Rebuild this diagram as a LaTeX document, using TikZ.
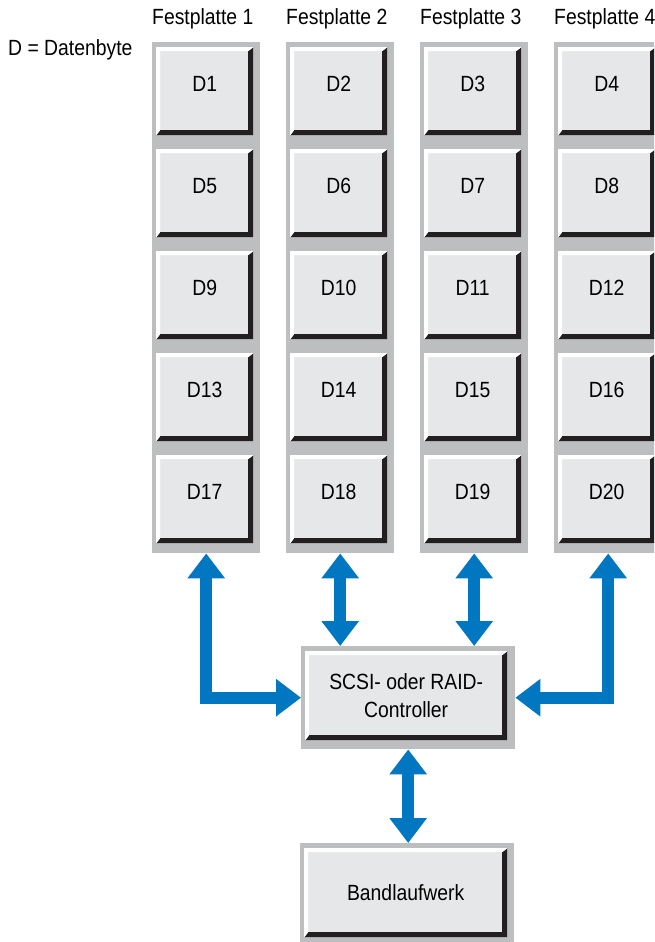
\documentclass[tikz,border=0pt]{standalone}
\usepackage{fontspec}
\setmainfont{Liberation Sans}[FakeStretch=0.88]
\usetikzlibrary{arrows.meta,calc}
\definecolor{colgray}{RGB}{188,190,192}
\definecolor{boxfill}{RGB}{230,231,232}
\definecolor{shadowc}{RGB}{35,31,32}
\definecolor{arrowblue}{RGB}{0,119,192}
\tikzset{
  lbl/.style={font=\fontsize{22}{28}\selectfont, inner sep=0pt},
  frame/.style={fill=colgray, draw=none, inner sep=0pt, anchor=north west},
  bev/.style={fill=boxfill, draw=none, inner sep=0pt, anchor=north west,
    font=\fontsize{22}{28}\selectfont,
    path picture={
      \fill[shadowc] (path picture bounding box.south west) -- (path picture bounding box.south east)
        -- (path picture bounding box.north east)
        -- ([xshift=-5pt,yshift=-4pt]path picture bounding box.north east)
        -- ([xshift=-5pt,yshift=5pt]path picture bounding box.south east)
        -- ([xshift=4pt,yshift=5pt]path picture bounding box.south west) -- cycle;
      \fill[white] (path picture bounding box.south west) -- (path picture bounding box.north west)
        -- (path picture bounding box.north east)
        -- ([xshift=-5pt,yshift=-4pt]path picture bounding box.north east)
        -- ([xshift=4pt,yshift=-4pt]path picture bounding box.north west)
        -- ([xshift=4pt,yshift=5pt]path picture bounding box.south west) -- cycle;
    }},
  dbox/.style={bev, minimum width=97pt, minimum height=88pt, text height=15.75pt, text depth=16pt},
  tip/.tip={Triangle[width=36pt,length=25pt]},
  link/.style={draw=arrowblue, line width=12pt, tip-tip, line join=miter, line cap=butt}
}
\begin{document}
\begin{tikzpicture}[x=1pt,y=-1pt]
\useasboundingbox (0,0) rectangle (654,942);
\clip (0,0) rectangle (654,942);
\node[lbl, anchor=base west] (legend) at (8,56) {D = Datenbyte};
\foreach \i/\a/\b/\c/\d/\e in {1/1/5/9/13/17, 2/2/6/10/14/18, 3/3/7/11/15/19, 4/4/8/12/16/20}{
  \pgfmathsetmacro{\cl}{152+134*(\i-1)}
  \node[lbl, anchor=base west] (title\i) at (\cl,25) {Festplatte \i};
  \node[frame, minimum width=108pt, minimum height=511pt] (col\i) at (\cl,42) {};
  \node[dbox] (b\i-1) at (\cl+4,47) {D\a};
  \node[dbox] (b\i-2) at (\cl+4,149) {D\b};
  \node[dbox] (b\i-3) at (\cl+4,251) {D\c};
  \node[dbox] (b\i-4) at (\cl+4,353) {D\d};
  \node[dbox] (b\i-5) at (\cl+4,455) {D\e};
}
\node[frame, minimum width=214pt, minimum height=103pt] (ctrl) at (301,646) {};
\node[bev, minimum width=202pt, minimum height=89pt, align=center] (ctrltext) at (305,651) {SCSI- oder RAID-\\Controller};
\node[frame, minimum width=214pt, minimum height=99pt] (band) at (300,843) {};
\node[bev, minimum width=203pt, minimum height=89pt] (bandtext) at (304,848) {Bandlaufwerk};
\draw[link] (col1.south) |- (ctrl.west);
\draw[link] (col4.south) |- (ctrl.east);
\draw[link] (col2.south) -- (col2.south |- ctrl.north);
\draw[link] (col3.south) -- (col3.south |- ctrl.north);
\draw[link] (ctrl.south) -- (ctrl.south |- band.north);
\end{tikzpicture}
\end{document}
